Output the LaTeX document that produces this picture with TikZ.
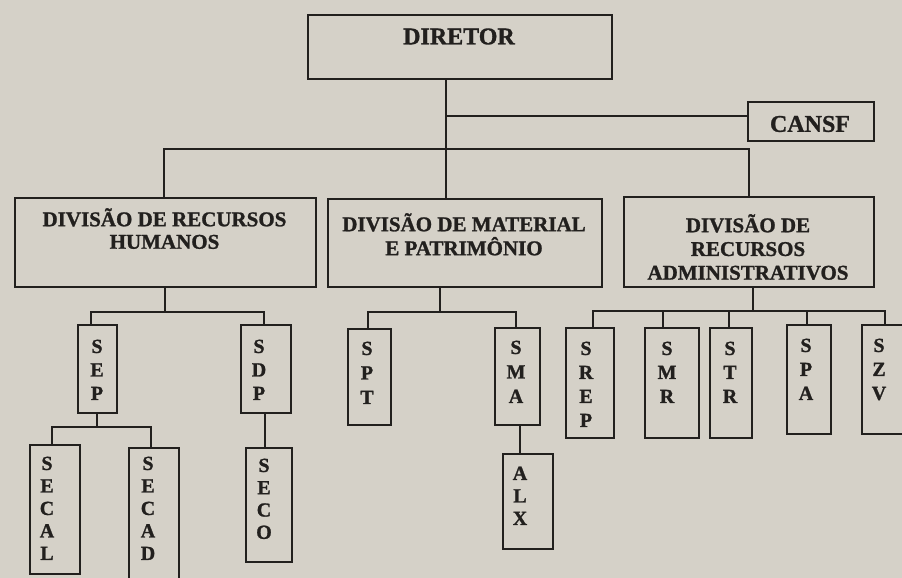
\documentclass[tikz,border=0pt]{standalone}
\usepackage{fontspec}
\setmainfont{Liberation Serif}[BoldFont={Liberation Serif Bold}]
\newfontfamily\heavy{Liberation Serif Bold}[FakeBold=1.2]
\definecolor{paper}{RGB}{213,209,200}
\definecolor{ink}{RGB}{34,32,30}
\begin{document}
\begin{tikzpicture}[x=1pt,y=-1pt,
  box/.style={draw=ink, line width=1.8pt, inner sep=0pt, anchor=north west},
  wire/.style={draw=ink, line width=1.8pt},
  head/.style={font=\heavy\fontsize{24}{28}\selectfont, text=ink, inner sep=0pt},
  divl/.style={font=\heavy\fontsize{21}{#1}\selectfont, text=ink, inner sep=0pt, align=center, anchor=north},
  divl/.default=23.5,
  col/.style={font=\heavy\fontsize{20}{#1}\selectfont, text=ink, inner sep=0pt, align=center, anchor=north},
  col/.default=24]
\fill[paper] (0,0) rectangle (902,578);
\useasboundingbox (0,0) rectangle (902,578);

% boxes
\node[box, minimum width=304pt, minimum height=64pt] (dir) at (307,14) {};
\node[box, minimum width=126pt, minimum height=39pt] (cansf) at (747,101) {};
\node[box, minimum width=301pt, minimum height=89pt] (drh) at (14,197) {};
\node[box, minimum width=274pt, minimum height=88pt] (dmp) at (327,198) {};
\node[box, minimum width=250pt, minimum height=90pt] (dra) at (623,196) {};
\node[box, minimum width=39pt, minimum height=88pt] (sep) at (77,324) {};
\node[box, minimum width=50pt, minimum height=88pt] (sdp) at (240,324) {};
\node[box, minimum width=50pt, minimum height=129pt] (secal) at (29,444) {};
\node[box, minimum width=50pt, minimum height=140pt] (secad) at (128,447) {};
\node[box, minimum width=46pt, minimum height=114pt] (seco) at (245,447) {};
\node[box, minimum width=43pt, minimum height=96pt] (spt) at (347,328) {};
\node[box, minimum width=45pt, minimum height=97pt] (sma) at (494,327) {};
\node[box, minimum width=50pt, minimum height=95pt] (alx) at (502,453) {};
\node[box, minimum width=48pt, minimum height=110pt] (srep) at (565,327) {};
\node[box, minimum width=54pt, minimum height=110pt] (smr) at (644,327) {};
\node[box, minimum width=42pt, minimum height=110pt] (str) at (709,327) {};
\node[box, minimum width=44pt, minimum height=109pt] (spa) at (786,324) {};
\node[box, minimum width=50pt, minimum height=109pt] (szv) at (861,324) {};

% texts
\node[head] (dir-t) at (459,36.5) {DIRETOR};
\node[head] (cansf-t) at (810,124) {CANSF};
\node[divl=22.5] (drh-t) at (164.5,208) {DIVISÃO DE RECURSOS\\HUMANOS};
\node[divl=24] (dmp-t) at (464,213) {DIVISÃO DE MATERIAL\\E PATRIMÔNIO};
\begin{scope}
  \clip (623,196) rectangle (873,279);
  \node[divl=23.7] (dra-t) at (748,214) {DIVISÃO DE\\RECURSOS\\ADMINISTRATIVOS};
\end{scope}
\node[col=23.5] (sep-t) at (97,339.5) {S\\E\\P};
\node[col=23.5] (sdp-t) at (259,339.5) {S\\D\\P};
\node[col=22.5] (secal-t) at (47,456.5) {S\\E\\C\\A\\L};
\node[col=22.5] (secad-t) at (148,456.5) {S\\E\\C\\A\\D};
\node[col=22.3] (seco-t) at (264,458.5) {S\\E\\C\\O};
\node[col=24.5] (spt-t) at (367,341.5) {S\\P\\T};
\node[col=24.5] (sma-t) at (516,340.5) {S\\M\\A};
\node[col=22.5] (alx-t) at (520,466.5) {A\\L\\X};
\node[col=24] (srep-t) at (586,341.5) {S\\R\\E\\P};
\node[col=24] (smr-t) at (667,341.5) {S\\M\\R};
\node[col=24] (str-t) at (730,341.5) {S\\T\\R};
\node[col=24] (spa-t) at (806,338.5) {S\\P\\A};
\node[col=24] (szv-t) at (879,338.5) {S\\Z\\V};

% connectors: top level
\coordinate (trunk) at (446,149);
\coordinate (cj) at (446,116);
\draw[wire] (dir.south -| trunk) -- (dmp.north -| trunk);
\draw[wire] (cj) -- (cansf.west |- cj);
\coordinate (busL) at (164,149);
\coordinate (busR) at (749,149);
\draw[wire] (busL |- drh.north) -- (busL) -- (busR) -- (busR |- dra.north);

% DRH
\coordinate (h0) at (165,312);
\coordinate (h1) at (91,312);
\coordinate (h2) at (264,312);
\draw[wire] (h0 |- drh.south) -- (h0);
\draw[wire] (h1 |- sep.north) -- (h1) -- (h2) -- (h2 |- sdp.north);
\coordinate (p0) at (97,427);
\coordinate (p1) at (52,427);
\coordinate (p2) at (151,427);
\draw[wire] (p0 |- sep.south) -- (p0);
\draw[wire] (p1 |- secal.north) -- (p1) -- (p2) -- (p2 |- secad.north);
\coordinate (q) at (265,430);
\draw[wire] (sdp.south -| q) -- (seco.north -| q);

% DMP
\coordinate (m0) at (440,312);
\coordinate (m1) at (368,312);
\coordinate (m2) at (516,312);
\draw[wire] (m0 |- dmp.south) -- (m0);
\draw[wire] (m1 |- spt.north) -- (m1) -- (m2) -- (m2 |- sma.north);
\coordinate (m3) at (520,440);
\draw[wire] (m3 |- sma.south) -- (m3 |- alx.north);

% DRA
\coordinate (a0) at (753,311);
\coordinate (a1) at (593,311);
\coordinate (a2) at (663,311);
\coordinate (a3) at (729,311);
\coordinate (a4) at (807,311);
\coordinate (a5) at (885,311);
\draw[wire] (a0 |- dra.south) -- (a0);
\draw[wire] (a1 |- srep.north) -- (a1) -- (a5) -- (a5 |- szv.north);
\draw[wire] (a2) -- (a2 |- smr.north);
\draw[wire] (a3) -- (a3 |- str.north);
\draw[wire] (a4) -- (a4 |- spa.north);
\end{tikzpicture}
\end{document}
